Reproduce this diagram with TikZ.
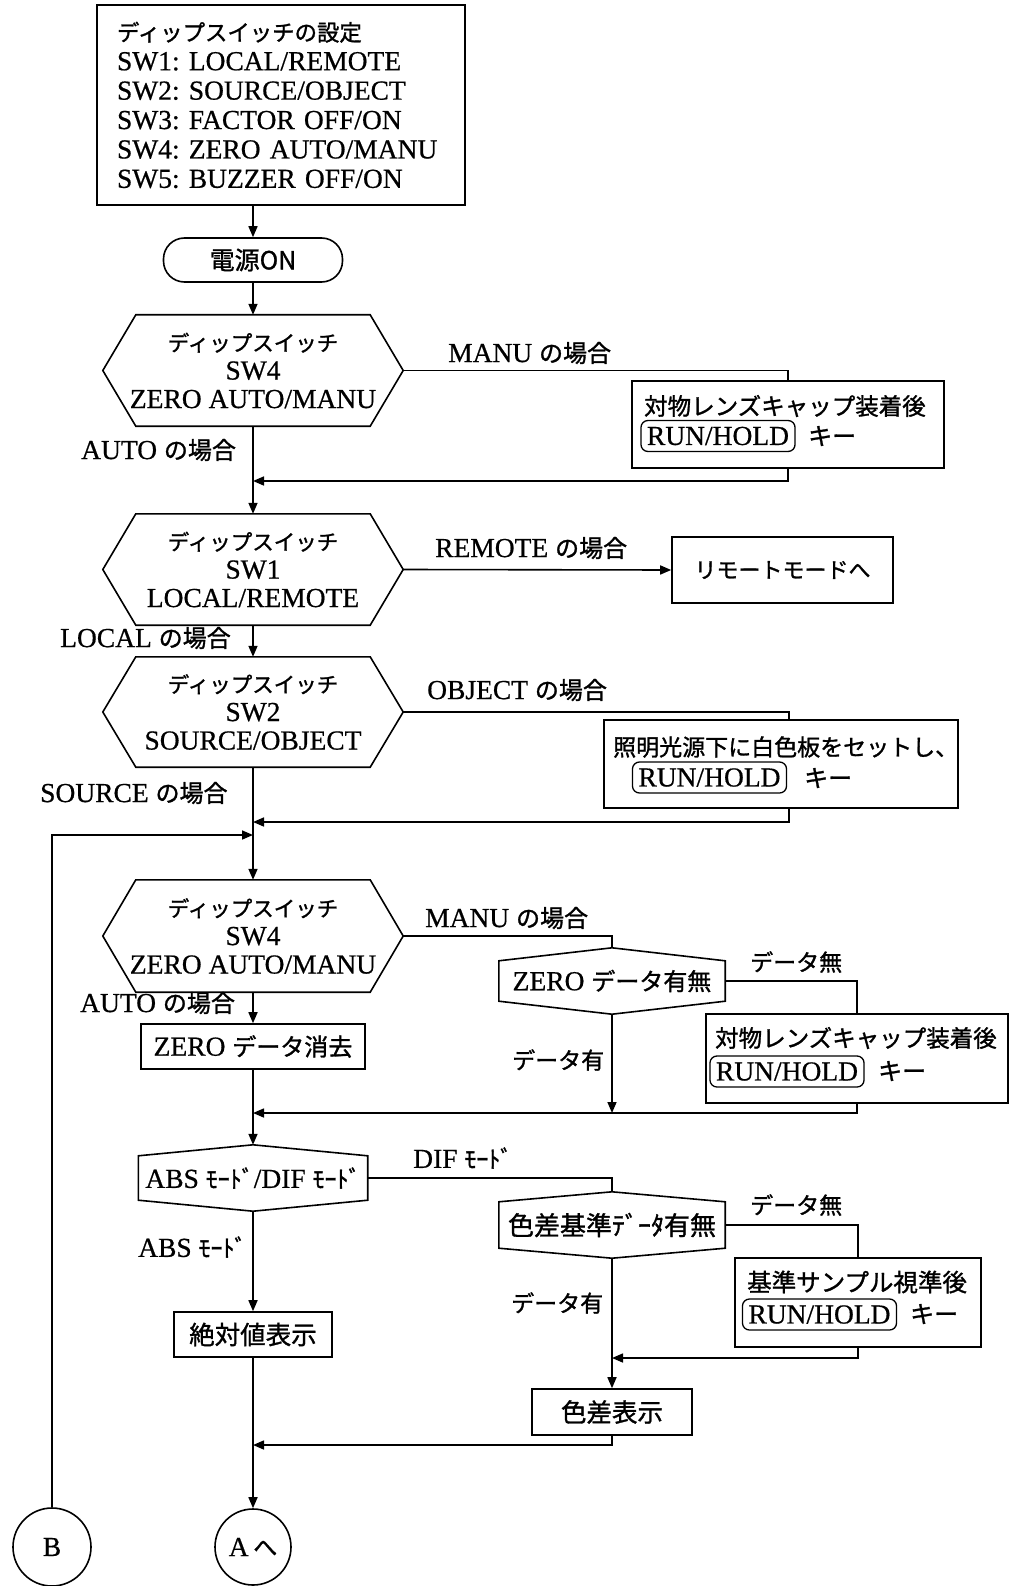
\documentclass[tikz,border=0pt]{standalone}
\usepackage{fontspec}
\setmainfont{Liberation Serif}[FakeBold=0.6]
\newfontfamily\jpfont{Noto Sans CJK JP}[FakeBold=1.2]
\usetikzlibrary{arrows.meta,calc}
\frenchspacing
\newcommand{\J}[2][24]{{\jpfont\fontsize{#1}{#1}\selectfont #2}}
\newcommand{\hexLR}[2]{\draw[ln] (#1.west) -- ([xshift=#2]#1.north west) -- ([xshift=-#2]#1.north east) -- (#1.east) -- ([xshift=-#2]#1.south east) -- ([xshift=#2]#1.south west) -- cycle;}
\newcommand{\hexTB}[2]{\draw[ln] (#1.north) -- ([yshift=-#2]#1.north east) -- ([yshift=#2]#1.south east) -- (#1.south) -- ([yshift=#2]#1.south west) -- ([yshift=-#2]#1.north west) -- cycle;}
\tikzset{
  ln/.style={line width=1.6pt},
  arr/.style={ln, -{Triangle[length=11pt,width=9pt]}},
  box/.style={draw, ln, fill=white, rectangle, inner sep=0pt},
  txt/.style={inner sep=0pt, anchor=west},
  keybox/.style={draw, line width=1.3pt, rounded corners=7pt, inner xsep=6pt, inner ysep=1pt, minimum height=31pt},
  hexn/.style={inner sep=0pt, minimum width=300pt, align=center, font=\fontsize{27.5}{28.5}\selectfont},
  hexs/.style={inner sep=0pt, minimum width=226pt, minimum height=66pt},
}
\begin{document}
\begin{tikzpicture}[x=1pt,y=-1pt,font=\fontsize{27.5}{29.5}\selectfont]
\useasboundingbox (0,0) rectangle (1011,1586);

% ---- main column nodes
\node[box, minimum width=368pt, minimum height=200pt, text width=328pt, inner xsep=20pt, align=left,
      font=\fontsize{27.5}{29.4}\selectfont] (setup) at (281,105)
  {\J[22.4]{ディップスイッチの設定}\\SW1: LOCAL/REMOTE\\SW2: SOURCE/OBJECT\\SW3: FACTOR OFF/ON\\SW4: ZERO AUTO/MANU\\SW5: BUZZER OFF/ON};
\node[draw, ln, rounded corners=21pt, minimum width=179pt, minimum height=44pt, inner sep=0pt] (term) at (253,260) {\J[25]{電源ON}};

\node[hexn, minimum height=111pt] (d1) at (253,370.5) {\J[21.5]{ディップスイッチ}\\SW4\\ZERO AUTO/MANU};
\hexLR{d1}{33pt}
\node[hexn, minimum height=111pt] (d2) at (253,569.5) {\J[21.5]{ディップスイッチ}\\SW1\\LOCAL/REMOTE};
\hexLR{d2}{33pt}
\node[hexn, minimum height=110pt] (d3) at (253,712) {\J[21.5]{ディップスイッチ}\\SW2\\SOURCE/OBJECT};
\hexLR{d3}{33pt}
\node[hexn, minimum height=112pt] (d4) at (253,936) {\J[21.5]{ディップスイッチ}\\SW4\\ZERO AUTO/MANU};
\hexLR{d4}{33pt}

\node[box, minimum width=224pt, minimum height=45pt] (zbox) at (253,1046.5) {ZERO \J{データ消去}};
\node[inner sep=0pt, minimum width=229pt, minimum height=66pt] (d5) at (253,1178) {ABS \J{ﾓｰﾄﾞ}/DIF \J{ﾓｰﾄﾞ}};
\hexTB{d5}{11pt}
\node[box, minimum width=158pt, minimum height=45pt] (absbox) at (253,1334.5) {\J[25.5]{絶対値表示}};
\node[draw, ln, circle, minimum size=76pt, inner sep=0pt] (cA) at (253,1547) {A\,\J{へ}};
\node[draw, ln, circle, minimum size=78pt, inner sep=0pt] (cB) at (52,1547) {B};

% ---- right side nodes
\node[box, minimum width=312pt, minimum height=87pt] (b1) at (788,424.5) {};
\node[txt] (t1) at (644,406) {\J[23.5]{対物レンズキャップ装着後}};
\node[keybox] (k1) at (718,436) {RUN/HOLD};
\node[txt] (q1) at (808,436) {\J{キー}};

\node[box, minimum width=221pt, minimum height=66pt] (rm) at (782.5,570) {\J[22]{リモートモードへ}};

\node[box, minimum width=354pt, minimum height=88pt] (b3) at (781,764) {};
\node[txt] (t3) at (613,747) {\J[23]{照明光源下に白色板をセットし、}};
\node[keybox] (k3) at (709.5,777.5) {RUN/HOLD};
\node[txt] (q3) at (804,778) {\J{キー}};

\node[hexs] (h1) at (612,981) {ZERO \J{データ有無}};
\hexTB{h1}{13pt}
\node[box, minimum width=302pt, minimum height=89pt] (b2) at (857,1058.5) {};
\node[txt] (t2) at (715,1038) {\J[23.5]{対物レンズキャップ装着後}};
\node[keybox] (k2) at (787,1071.5) {RUN/HOLD};
\node[txt] (q2) at (878,1071) {\J{キー}};

\node[hexs] (h2) at (612,1225) {\J[26]{色差基準ﾃﾞｰﾀ有無}};
\hexTB{h2}{10pt}
\node[box, minimum width=246pt, minimum height=89pt] (b4) at (858,1302.5) {};
\node[txt] (t4) at (747,1282) {\J[24.5]{基準サンプル視準後}};
\node[keybox] (k4) at (819.5,1314.5) {RUN/HOLD};
\node[txt] (q4) at (910,1314) {\J{キー}};
\node[box, minimum width=160pt, minimum height=46pt] (csbox) at (612,1412) {\J[25.5]{色差表示}};

% ---- labels
\node[txt] (l1) at (448,353) {MANU \J{の場合}};
\node[txt] (l2) at (81,450) {AUTO \J{の場合}};
\node[txt] (l3) at (435,548) {REMOTE \J{の場合}};
\node[txt] (l4) at (60,638) {LOCAL \J{の場合}};
\node[txt] (l5) at (427,690) {OBJECT \J{の場合}};
\node[txt] (l6) at (40,793) {SOURCE \J{の場合}};
\node[txt] (l7) at (425,918) {MANU \J{の場合}};
\node[txt] (l8) at (80,1003) {AUTO \J{の場合}};
\node[txt] (l9) at (750,962) {\J[23]{データ無}};
\node[txt] (l10) at (512,1060) {\J[23]{データ有}};
\node[txt] (l11) at (413,1158) {DIF \J{ﾓｰﾄﾞ}};
\node[txt] (l12) at (138,1247) {ABS \J{ﾓｰﾄﾞ}};
\node[txt] (l13) at (750,1205) {\J[23]{データ無}};
\node[txt] (l14) at (511,1303) {\J[23]{データ有}};

% ---- coordinates
\coordinate (r1) at (253,481);
\coordinate (o3) at (789,708);
\coordinate (r3) at (253,822);
\coordinate (rb) at (253,835);
\coordinate (r2) at (253,1113);
\coordinate (m4) at (612,1358);
\coordinate (r5) at (253,1445);

% ---- main column connectors
\draw[arr] (setup.south -| term) -- (term.north);
\draw[arr] (term.south) -- (d1.north);
\draw[arr] (d1.south) -- (d2.north);
\draw[arr] (d2.south) -- (d3.north);
\draw[arr] (d3.south) -- (d4.north);
\draw[arr] (d4.south) -- (zbox.north);
\draw[arr] (zbox.south) -- (d5.north);
\draw[arr] (d5.south) -- (absbox.north);
\draw[arr] (absbox.south) -- (cA.north);

% ---- branches
\draw[ln] (d1.east) -| (b1.north);
\draw[arr] (b1.south) |- (r1);
\draw[arr] (d2.east) -- (rm.west);
\draw[ln] (d3.east) -| (o3 |- b3.north);
\draw[arr] (o3 |- b3.south) |- (r3);
\draw[arr] (cB.north) |- (rb);

\draw[ln] (d4.east) -| (h1.north);
\draw[ln] (h1.east) -| (b2.north);
\draw[arr] (b2.south) |- (r2);
\draw[arr] (h1.south) -- (h1.south |- r2);

\draw[ln] (d5.east) -| (h2.north);
\draw[ln] (h2.east) -| (b4.north);
\draw[arr] (b4.south) |- (m4);
\draw[arr] (h2.south) -- (csbox.north);
\draw[arr] (csbox.south) |- (r5);
\end{tikzpicture}
\end{document}
